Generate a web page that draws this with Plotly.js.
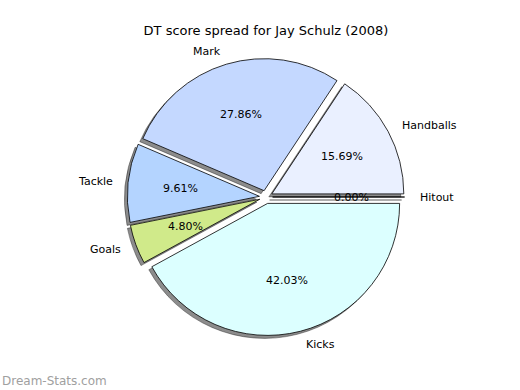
<!DOCTYPE html>
<html><head><meta charset="utf-8">
<script src="https://cdn.plot.ly/plotly-3.0.1.min.js"></script>
<style>body{margin:0;background:#fff}</style></head>
<body><div id="chart" style="width:520px;height:390px"></div>
<script>
// ---- data ----
const labels = ['Handballs', 'Mark', 'Tackle', 'Goals', 'Kicks', 'Hitout'];
const shares = [15.69, 27.86, 9.61, 4.80, 42.03, 0.00];
const colors = ['#eaf0ff', '#c4d8ff', '#b4d4ff', '#d0ea8a', '#dcffff', '#ffffff'];
const explode = [0.05, 0.05, 0.05, 0.05, 0.05, 0.05];
const titleText = 'DT score spread for Jay Schulz (2008)';
const watermark = 'Dream-Stats.com';

// ---- layout geometry ----
const W = 520, H = 390;
const CX = 266, CY = 197, R = 132;
const maxPull = Math.max(...explode);
const half = R * (1 + maxPull);
function dom(dx, dy) {
  return {
    x: [(CX - half + dx) / W, (CX + half + dx) / W],
    y: [(H - (CY + dy) - half) / H, (H - (CY + dy) + half) / H]
  };
}
const FONT = 'DejaVu Sans, sans-serif';
const total = shares.reduce((a, b) => a + b, 0);
// Plotly (counterclockwise) places the first slice clockwise of the rotation line,
// so shift by its width to make it start at 3 o'clock like the reference.
const rot = 90 - shares[0] / total * 360;

const common = {
  type: 'pie', values: shares, labels: labels, sort: false,
  direction: 'counterclockwise', rotation: rot, pull: explode,
  textinfo: 'none', hoverinfo: 'none', showlegend: false
};
const shadow = Object.assign({}, common, {
  domain: dom(-3, 3),
  marker: {colors: shares.map(() => 'rgba(0,0,0,0.45)'), line: {color: 'rgba(0,0,0,0.45)', width: 0.8}}
});
const main = Object.assign({}, common, {
  domain: dom(0, 0),
  marker: {colors: colors, line: {color: '#000', width: 0.8}}
});

// text positions follow the slice angles derived from the data
const annotations = [];
let cum = 0;
shares.forEach((v, i) => {
  const mid = (cum + v / 2) / total * 2 * Math.PI;
  cum += v;
  const ux = Math.cos(mid), uy = Math.sin(mid);
  const ox = CX + explode[i] * R * ux, oy = CY - explode[i] * R * uy;
  const px = ox + 0.6 * R * ux, py = oy - 0.6 * R * uy;
  const lx = ox + 1.1 * R * ux, ly = oy - 1.1 * R * uy;
  annotations.push({
    xref: 'paper', yref: 'paper', x: px / W, y: 1 - py / H,
    xanchor: 'center', yanchor: 'middle', showarrow: false,
    text: v.toFixed(2) + '%', font: {family: FONT, size: 11, color: '#000'}
  });
  annotations.push({
    xref: 'paper', yref: 'paper', x: lx / W, y: 1 - ly / H,
    xanchor: ux > 0 ? 'left' : 'right', yanchor: 'middle', showarrow: false,
    text: labels[i], font: {family: FONT, size: 11, color: '#000'}
  });
});
annotations.push({
  xref: 'paper', yref: 'paper', x: 0, y: 0, xanchor: 'left', yanchor: 'bottom',
  showarrow: false, text: watermark,
  font: {family: FONT, size: 12, color: '#a0a0a0'}
});

const layout = {
  width: W, height: H,
  margin: {l: 0, r: 0, t: 0, b: 0},
  paper_bgcolor: '#fff',
  title: {text: titleText, x: 266 / W, xanchor: 'center', y: 1 - 30 / H, yanchor: 'middle',
          font: {family: FONT, size: 13, color: '#000'}},
  annotations: annotations
};
Plotly.newPlot('chart', [shadow, main], layout, {displayModeBar: false, staticPlot: true});
</script></body></html>
